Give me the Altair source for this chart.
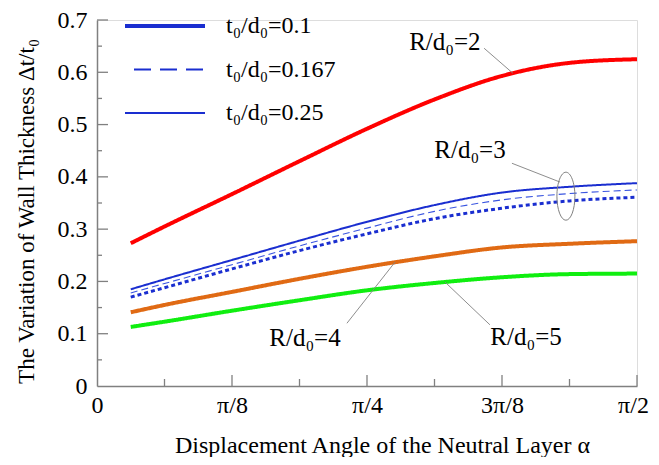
import math
import altair as alt
import pandas as pd

PI = math.pi

# ---- data (alpha in radians, value = Δt/t0) ----
alpha = [PI/32, PI/16, 2*PI/16, 3*PI/16, 4*PI/16, 5*PI/16, 6*PI/16, 7*PI/16, 8*PI/16]
r2 = [0.273, 0.305, 0.367, 0.430, 0.492, 0.548, 0.593, 0.618, 0.625]
r3_top = [0.185, 0.204, 0.241, 0.278, 0.314, 0.346, 0.370, 0.381, 0.388]
r3_mid = [0.178, 0.196, 0.232, 0.268, 0.302, 0.334, 0.356, 0.368, 0.375]
r3_bot = [0.170, 0.188, 0.224, 0.259, 0.291, 0.320, 0.340, 0.354, 0.361]
r4 = [0.141, 0.155, 0.180, 0.205, 0.228, 0.248, 0.265, 0.272, 0.277]
r5 = [0.113, 0.123, 0.144, 0.164, 0.183, 0.197, 0.208, 0.214, 0.215]

series_names = ["R2", "R3_top", "R3_mid", "R3_bot", "R4", "R5"]
series_vals = [r2, r3_top, r3_mid, r3_bot, r4, r5]
series_colors = ["#ff0000", "#1a2ed0", "#3a55e0", "#1a2ed0", "#e06a14", "#10ee10"]
series_widths = [4, 2, 1.1, 3, 4, 4]
series_dash = [[1, 0], [1, 0], [7, 4], [4, 3], [1, 0], [1, 0]]

legend_labels = ["t₀/d₀=0.1", "t₀/d₀=0.167", "t₀/d₀=0.25"]
legend_widths = [4, 2, 2]
legend_dash = [[1, 0], [17, 9], [1, 0]]

ann_labels = ["R/d₀=2", "R/d₀=3", "R/d₀=4", "R/d₀=5"]
ann_alpha = [1.012, 1.085, 0.605, 1.248]
ann_value = [0.658, 0.451, 0.092, 0.094]
lead_a1 = [1.126, 1.207, 0.727, 1.143]
lead_v1 = [0.646, 0.426, 0.120, 0.117]
lead_a2 = [1.210, 1.347, 0.867, 1.012]
lead_v2 = [0.598, 0.390, 0.237, 0.199]
ell_alpha = [1.364]
ell_value = [0.363]

y_major = [0.1, 0.2, 0.3, 0.4, 0.5, 0.6, 0.7]
y_minor = [0.05, 0.15, 0.25, 0.35, 0.45, 0.55, 0.65]
x_major = [PI/8, PI/4, 3*PI/8, PI/2]
x_minor = [PI/16, 3*PI/16, 5*PI/16, 7*PI/16]
x_tick_labels = ["0", "π/8", "π/4", "3π/8", "π/2"]

# ---- tables ----
rows = []
for name, vals in zip(series_names, series_vals):
    for a, v in zip(alpha, vals):
        rows.append({"alpha": a, "value": v, "series": name})
df = pd.DataFrame(rows)
df_leg = pd.DataFrame({"alpha": [0.0] * 3, "value": [0.0] * 3, "leg": legend_labels})
df_ann = pd.DataFrame({"alpha": ann_alpha, "value": ann_value, "label": ann_labels,
                       "a1": lead_a1, "v1": lead_v1, "a2": lead_a2, "v2": lead_v2})
df_ell = pd.DataFrame({"alpha": ell_alpha, "value": ell_value})
df_ymaj = pd.DataFrame({"value": y_major})
df_ymin = pd.DataFrame({"value": y_minor})
df_xmaj = pd.DataFrame({"alpha": x_major})
df_xmin = pd.DataFrame({"alpha": x_minor})

W, H = 540, 366
FONT = "Liberation Serif"
xscale = alt.Scale(domain=[0, PI/2], nice=False, zero=False)
yscale = alt.Scale(domain=[0, 0.7], nice=False)

label_expr_x = "['" + "','".join(x_tick_labels) + "'][round(datum.value/(PI/8))]"

xaxis = alt.Axis(values=[0] + x_major, labelExpr=label_expr_x, ticks=False, tickSize=0,
                 grid=False, labelFont=FONT, labelFontSize=24, labelColor="black",
                 labelPadding=7, domainColor="#808080", domainWidth=1.5,
                 labelOffset={"condition": {"test": "datum.value > 1.5", "value": -4}, "value": 0},
                 title="Displacement Angle of the Neutral Layer α", titleFont=FONT,
                 titleFontSize=24, titleFontWeight="normal", titleColor="black",
                 titleX=285, titleY=66, titleAlign="center", titleBaseline="alphabetic",
                 labelFlush=False)
yaxis = alt.Axis(values=[0] + y_major,
                 labelExpr="datum.value == 0 ? '0' : format(datum.value, '.1f')",
                 ticks=False, tickSize=0, grid=False, labelFont=FONT, labelFontSize=24,
                 labelColor="black", labelPadding=10, domainColor="#808080", domainWidth=1.5,
                 title="The Variation of Wall Thickness Δt/t₀", titleFont=FONT,
                 titleFontSize=23, titleFontWeight="normal", titleColor="black",
                 titleX=-64, titleY=191, titleAlign="center", titleBaseline="alphabetic",
                 labelFlush=False)

X = alt.X("alpha:Q", scale=xscale, axis=xaxis)
Y = alt.Y("value:Q", scale=yscale, axis=yaxis)

layers = []
for name, col, w, dash in zip(series_names, series_colors, series_widths, series_dash):
    layers.append(
        alt.Chart(df).transform_filter(alt.datum.series == name)
        .mark_line(color=col, strokeWidth=w, strokeDash=dash, strokeCap="butt", interpolate="monotone")
        .encode(x=X, y=Y)
    )

leg_kw = dict(title=None, orient="none", legendX=46, legendY=-16, symbolType="M-2,0L2,0",
              symbolSize=1600, symbolDashOffset=17, labelFont=FONT, labelFontSize=24,
              labelColor="black", labelOffset=39, rowPadding=10.5, padding=0)
legend_layer = alt.Chart(df_leg).mark_line().encode(
    x=X, y=Y,
    color=alt.Color("leg:N", scale=alt.Scale(type="ordinal", domain=legend_labels, range=["#1a2ed0"] * 3),
                    legend=alt.Legend(**leg_kw)),
    strokeWidth=alt.StrokeWidth("leg:N", scale=alt.Scale(type="ordinal", domain=legend_labels, range=legend_widths),
                                legend=alt.Legend(**leg_kw)),
    strokeDash=alt.StrokeDash("leg:N", scale=alt.Scale(type="ordinal", domain=legend_labels, range=legend_dash),
                              legend=alt.Legend(**leg_kw)),
)
layers.append(legend_layer)

tick_style = dict(color="#808080", strokeWidth=1.3)
layers.append(alt.Chart(df_ymaj).mark_rule(**tick_style).encode(y=Y, x=alt.value(0), x2=alt.value(11)))
layers.append(alt.Chart(df_ymin).mark_rule(**tick_style).encode(y=Y, x=alt.value(0), x2=alt.value(5)))
layers.append(alt.Chart(df_xmaj).mark_rule(**tick_style).encode(x=X, y=alt.value(H), y2=alt.value(H - 11)))
layers.append(alt.Chart(df_xmin).mark_rule(**tick_style).encode(x=X, y=alt.value(H), y2=alt.value(H - 7)))

layers.append(alt.Chart(df_ann).mark_rule(color="#808080", strokeWidth=0.9).encode(
    x=alt.X("a1:Q", scale=xscale, axis=xaxis), y=alt.Y("v1:Q", scale=yscale, axis=yaxis),
    x2="a2:Q", y2="v2:Q"))
layers.append(alt.Chart(df_ann).mark_text(font=FONT, fontSize=25, align="center", baseline="middle",
                                          color="black").encode(x=X, y=Y, text="label:N"))
layers.append(alt.Chart(df_ell).mark_point(
    shape="M0,-1 A0.375,1 0 1,1 0,1 A0.375,1 0 1,1 0,-1 Z", size=2304, filled=False,
    color="#808080", strokeWidth=1, opacity=1).encode(x=X, y=Y))

chart = alt.layer(*layers).resolve_scale(
    color="independent", strokeWidth="independent", strokeDash="independent"
).properties(
    width=W, height=H,
    autosize=alt.AutoSizeParams(type="none"),
    padding={"left": 89, "top": 12, "right": 14, "bottom": 71},
).configure_view(stroke=None).configure(background="white")

chart.save("out.html", embed_options={"renderer": "svg", "actions": False})
